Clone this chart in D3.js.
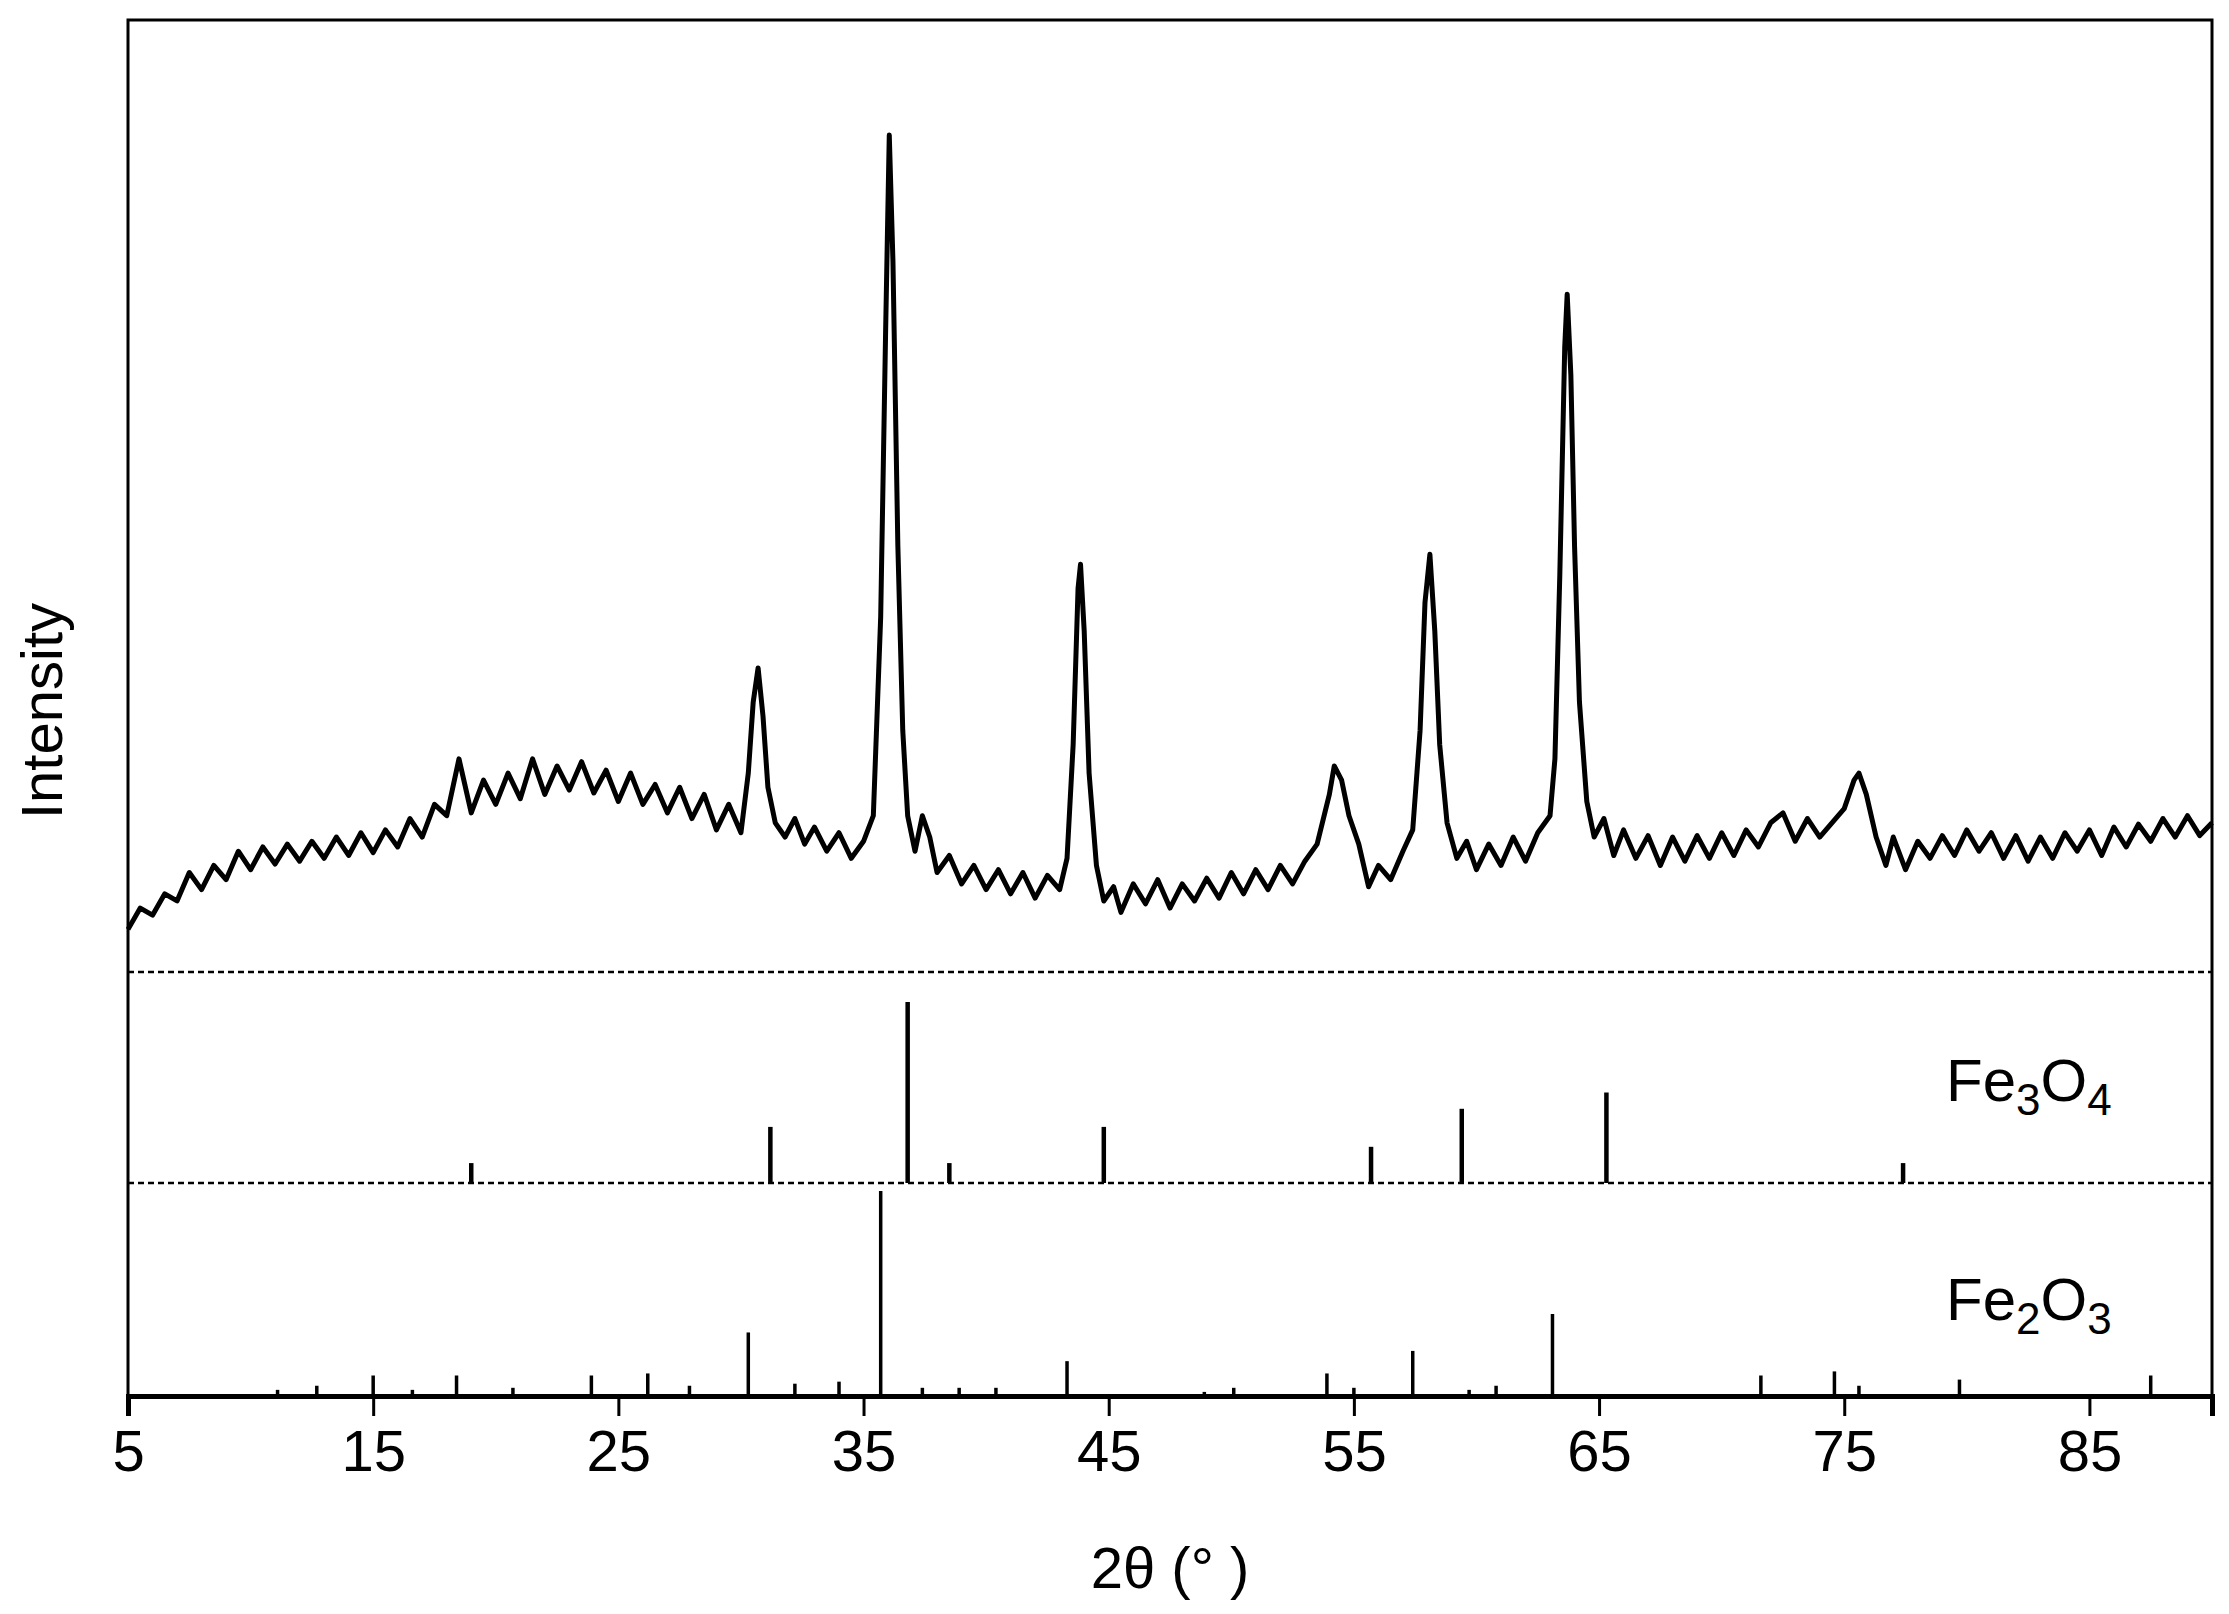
<!DOCTYPE html>
<html><head><meta charset="utf-8">
<script src="https://cdn.jsdelivr.net/npm/d3@7"></script>
<style>body{margin:0;background:#fff}svg{display:block}text{font-family:"Liberation Sans",Arial,sans-serif}</style>
</head><body>
<script>
const xrdX=[5,5.5,6,6.5,7,7.5,8,8.5,9,9.5,10,10.5,11,11.5,12,12.5,13,13.5,14,14.5,15,15.5,16,16.5,17,17.5,18,18.5,19,19.5,20,20.5,21,21.5,22,22.5,23,23.5,24,24.5,25,25.5,26,26.5,27,27.5,28,28.5,29,29.5,30,30.3,30.5,30.7,30.9,31.1,31.4,31.8,32.2,32.6,33,33.5,34,34.5,35,35.4,35.7,35.9,36.05,36.2,36.4,36.6,36.8,37.1,37.4,37.7,38,38.5,39,39.5,40,40.5,41,41.5,42,42.5,43,43.3,43.55,43.75,43.85,44,44.2,44.5,44.8,45.2,45.5,46,46.5,47,47.5,48,48.5,49,49.5,50,50.5,51,51.5,52,52.5,53,53.5,54,54.2,54.5,54.8,55.2,55.6,56,56.5,57,57.4,57.7,57.9,58.1,58.3,58.5,58.8,59.2,59.6,60,60.5,61,61.5,62,62.5,63,63.2,63.4,63.6,63.7,63.85,64,64.2,64.5,64.8,65.2,65.6,66,66.5,67,67.5,68,68.5,69,69.5,70,70.5,71,71.5,72,72.5,73,73.5,74,74.5,75,75.4,75.6,75.9,76.3,76.7,77,77.5,78,78.5,79,79.5,80,80.5,81,81.5,82,82.5,83,83.5,84,84.5,85,85.5,86,86.5,87,87.5,88,88.5,89,89.5,90];
const xrdY=[30,45,40,55,50,70,58,75,65,85,72,88,76,90,78,92,80,95,82,98,84,100,88,108,95,118,110,150,112,135,118,140,122,150,125,145,128,148,126,142,120,140,118,132,112,130,108,125,100,118,98,140,190,214,180,130,105,95,108,90,102,85,98,80,92,110,250,450,589,500,300,170,110,85,110,95,70,82,62,75,58,72,55,70,52,68,58,80,160,270,287,240,140,75,50,60,42,62,48,65,45,62,50,66,52,70,55,72,58,75,62,78,90,125,145,135,110,90,60,75,65,85,100,170,260,294,240,160,105,80,92,72,90,75,95,78,98,110,150,280,440,477,420,300,190,120,95,108,82,100,80,96,75,95,78,96,80,98,82,100,88,105,112,92,108,95,105,115,135,140,125,95,75,95,72,92,80,96,82,100,85,98,80,96,78,95,80,98,85,100,82,102,88,104,92,108,95,110,96,105];
const fe3o4Pos=[19.0,31.2,36.8,38.5,44.8,55.7,59.4,65.3,77.4];
const fe3o4Int=[11,31,100,11,31,20,41,50,11];
const fe2o3Pos=[11.1,12.7,15.0,16.6,18.4,20.7,23.9,26.2,27.9,30.3,32.2,34.0,35.7,37.4,38.9,40.4,43.3,48.9,50.1,53.9,55.0,57.4,59.7,60.8,63.1,71.6,74.6,75.6,79.7,87.5];
const fe2o3Int=[3,5,10,3,10,4,10,11,5,31,6,7,100,4,4,4,17,2,4,11,4,22,3,5,40,10,12,5,8,10];
const xTicks=[5,15,25,35,45,55,65,75,85];

const W=2229,H=1614,L=128,R=2212,T=20,B=1396,d1=972,d2=1183;
const svg=d3.select("body").append("svg").attr("width",W).attr("height",H);
const x=d3.scaleLinear().domain([5,90]).range([L,R]);
const y=d3.scaleLinear().domain([0,670]).range([d1,T]);
const y3=d3.scaleLinear().domain([0,100]).range([d2,d2-181]);
const y2=d3.scaleLinear().domain([0,100]).range([B,B-205]);

svg.append("path").datum(xrdX.map((v,i)=>[v,xrdY[i]]))
 .attr("d",d3.line().x(d=>x(d[0])).y(d=>y(d[1])))
 .attr("fill","none").attr("stroke","#000").attr("stroke-width",5).attr("stroke-linejoin","round");

[d1,d2].forEach(yy=>svg.append("line").attr("x1",L).attr("x2",R).attr("y1",yy).attr("y2",yy)
 .attr("stroke","#000").attr("stroke-width",2.5).attr("stroke-dasharray","6,4"));

svg.selectAll(".s3").data(fe3o4Pos).join("line").attr("x1",d=>x(d)).attr("x2",d=>x(d))
 .attr("y1",d2).attr("y2",(d,i)=>y3(fe3o4Int[i])).attr("stroke","#000").attr("stroke-width",4.5);
svg.selectAll(".s2").data(fe2o3Pos).join("line").attr("x1",d=>x(d)).attr("x2",d=>x(d))
 .attr("y1",B).attr("y2",(d,i)=>y2(fe2o3Int[i])).attr("stroke","#000").attr("stroke-width",3.5);

svg.append("rect").attr("x",L).attr("y",T).attr("width",R-L).attr("height",B-T)
 .attr("fill","none").attr("stroke","#000").attr("stroke-width",3);

const ax=svg.append("g").attr("transform",`translate(0,${B})`)
 .call(d3.axisBottom(x).tickValues(xTicks).tickSize(20).tickPadding(14).tickFormat(d3.format("d")));
ax.select(".domain").attr("stroke-width",5);
ax.selectAll("line").attr("stroke-width",3);
ax.selectAll("text").attr("font-size",58).attr("fill","#000").style("font-family","'Liberation Sans',Arial,sans-serif");

svg.append("text").attr("x",(L+R)/2).attr("y",1588).attr("text-anchor","middle").attr("font-size",58).text("2θ (°  )");
svg.append("text").attr("transform","translate(62,711) rotate(-90)").attr("text-anchor","middle").attr("font-size",58).text("Intensity");

function formula(yy,a,b){
 const t=svg.append("text").attr("x",1946).attr("y",yy).attr("font-size",60);
 t.append("tspan").text("Fe");
 t.append("tspan").attr("font-size",44).attr("dy",14).text(a);
 t.append("tspan").attr("dy",-14).text("O");
 t.append("tspan").attr("font-size",44).attr("dy",14).text(b);
}
formula(1101,"3","4");
formula(1320,"2","3");
</script>
</body></html>
